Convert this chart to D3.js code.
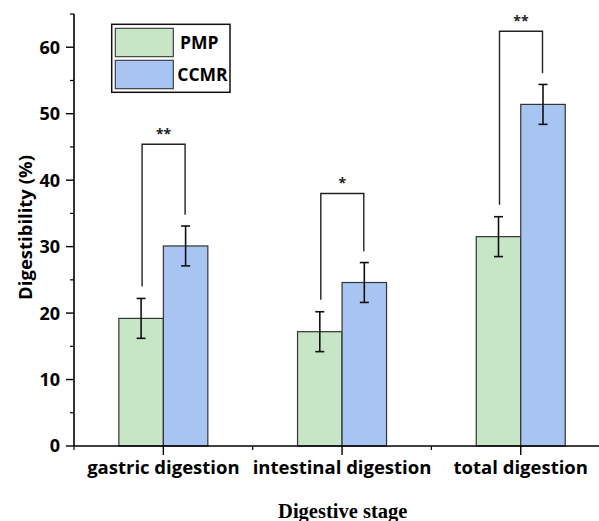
<!DOCTYPE html>
<html>
<head>
<meta charset="utf-8">
<script src="https://cdn.jsdelivr.net/npm/d3@7"></script>
<style>
  body { margin: 0; background: #fff; }
  svg { display: block; }
</style>
</head>
<body>
<svg id="chart" width="599" height="521"></svg>
<script>
const stages = ["gastric digestion", "intestinal digestion", "total digestion"];
const groups = ["PMP", "CCMR"];
const pmpMean = [19.2, 17.2, 31.5];
const pmpErr = [3.0, 3.0, 3.0];
const ccmrMean = [30.1, 24.6, 51.4];
const ccmrErr = [3.0, 3.0, 3.0];
const sigLabels = ["**", "*", "**"];
const sigTop = [45.4, 38.0, 62.4];
const yTicks = [0, 10, 20, 30, 40, 50, 60];

const colors = { PMP: "#c6e6c6", CCMR: "#a7c4f2" };
const font = "'Open Sans', 'Noto Sans', sans-serif";

const svg = d3.select("#chart");
const plotLeft = 74, plotBottom = 446, plotTop = 14;

const x = d3.scaleBand().domain(stages).range([plotLeft, plotLeft + 3 * 178.7]).paddingInner(0).paddingOuter(0);
const y = d3.scaleLinear().domain([0, 65]).range([plotBottom, plotTop]);
const barW = 44.5;

const rows = stages.map((s, i) => ({
  stage: s,
  vals: [
    { g: "PMP", v: pmpMean[i], e: pmpErr[i] },
    { g: "CCMR", v: ccmrMean[i], e: ccmrErr[i] }
  ],
  sig: sigLabels[i],
  sigTop: sigTop[i]
}));

const barX = (stage, gi) => x(stage) + x.bandwidth() / 2 + (gi - 1) * barW;

// bars
rows.forEach(r => {
  r.vals.forEach((d, gi) => {
    svg.append("rect")
      .attr("x", barX(r.stage, gi))
      .attr("y", y(d.v))
      .attr("width", barW)
      .attr("height", y(0) - y(d.v))
      .attr("fill", colors[d.g])
      .attr("stroke", "#333")
      .attr("stroke-width", 1.2);
  });
});

// error bars
rows.forEach(r => {
  r.vals.forEach((d, gi) => {
    const cx = barX(r.stage, gi) + barW / 2;
    const g = svg.append("g").attr("stroke", "#111").attr("stroke-width", 1.6);
    g.append("line").attr("x1", cx).attr("x2", cx).attr("y1", y(d.v + d.e)).attr("y2", y(d.v - d.e));
    g.append("line").attr("x1", cx - 4.5).attr("x2", cx + 4.5).attr("y1", y(d.v + d.e)).attr("y2", y(d.v + d.e));
    g.append("line").attr("x1", cx - 4.5).attr("x2", cx + 4.5).attr("y1", y(d.v - d.e)).attr("y2", y(d.v - d.e));
  });
});

// significance brackets
rows.forEach(r => {
  const x1 = barX(r.stage, 0) + barW / 2 + 1;
  const x2 = barX(r.stage, 1) + barW / 2 - 0.5;
  const b1 = r.vals[0].v + r.vals[0].e + 1.8;
  const b2 = r.vals[1].v + r.vals[1].e + 1.7;
  svg.append("path")
    .attr("d", `M${x1},${y(b1)} V${y(r.sigTop)} H${x2} V${y(b2)}`)
    .attr("fill", "none")
    .attr("stroke", "#222")
    .attr("stroke-width", 1.4);
  svg.append("text")
    .attr("x", (x1 + x2) / 2)
    .attr("y", y(r.sigTop) - 5)
    .attr("text-anchor", "middle")
    .attr("font-family", font)
    .attr("font-size", 14)
    .attr("font-weight", "bold")
    .attr("fill", "#222")
    .text(r.sig);
});

// y axis
const yAxis = svg.append("g").attr("transform", `translate(${plotLeft},0)`);
yAxis.append("line").attr("x1", 0).attr("x2", 0).attr("y1", plotTop).attr("y2", plotBottom)
  .attr("stroke", "#000").attr("stroke-width", 1.6);
yAxis.selectAll(".major").data(yTicks).enter().append("line")
  .attr("x1", -8).attr("x2", 0).attr("y1", d => y(d)).attr("y2", d => y(d))
  .attr("stroke", "#000").attr("stroke-width", 1.4);
yAxis.selectAll(".minor").data(yTicks.map(d => d + 5)).enter().append("line")
  .attr("x1", -4).attr("x2", 0).attr("y1", d => y(d)).attr("y2", d => y(d))
  .attr("stroke", "#000").attr("stroke-width", 1.2);
yAxis.selectAll("text").data(yTicks).enter().append("text")
  .attr("x", -14).attr("y", d => y(d)).attr("dy", "0.36em")
  .attr("text-anchor", "end")
  .attr("font-family", font).attr("font-size", 18).attr("font-weight", "bold")
  .text(d => d);

// x axis
const xAxis = svg.append("g").attr("transform", `translate(0,${plotBottom})`);
xAxis.append("line").attr("x1", plotLeft).attr("x2", 599).attr("y1", 0).attr("y2", 0)
  .attr("stroke", "#000").attr("stroke-width", 1.6);
xAxis.selectAll(".major").data(stages).enter().append("line")
  .attr("x1", d => x(d) + x.bandwidth() / 2).attr("x2", d => x(d) + x.bandwidth() / 2)
  .attr("y1", 0).attr("y2", 9)
  .attr("stroke", "#000").attr("stroke-width", 1.4);
xAxis.selectAll(".minor").data(stages).enter().append("line")
  .attr("x1", d => x(d)).attr("x2", d => x(d))
  .attr("y1", 0).attr("y2", 4)
  .attr("stroke", "#000").attr("stroke-width", 1.2);
xAxis.selectAll("text").data(stages).enter().append("text")
  .attr("x", d => x(d) + x.bandwidth() / 2).attr("y", 28)
  .attr("text-anchor", "middle")
  .attr("font-family", font).attr("font-size", 18.5).attr("font-weight", "bold")
  .text(d => d);

// axis titles
svg.append("text")
  .attr("transform", `translate(32,227.5) rotate(-90)`)
  .attr("text-anchor", "middle")
  .attr("font-family", font).attr("font-size", 18.5).attr("font-weight", "bold")
  .text("Digestibility (%)");
svg.append("text")
  .attr("x", 342.7).attr("y", 518)
  .attr("text-anchor", "middle")
  .attr("font-family", "'Liberation Serif', 'Times New Roman', serif")
  .attr("font-size", 20.5).attr("font-weight", "bold")
  .text("Digestive stage");

// legend
const legend = svg.append("g").attr("transform", "translate(111.7,24.3)");
legend.append("rect").attr("width", 118.3).attr("height", 68)
  .attr("fill", "#fff").attr("stroke", "#111").attr("stroke-width", 1.5);
groups.forEach((g, i) => {
  legend.append("rect")
    .attr("x", 3.6).attr("y", 4 + i * 32)
    .attr("width", 58).attr("height", 28.4)
    .attr("fill", colors[g]).attr("stroke", "#333").attr("stroke-width", 1.1);
  legend.append("text")
    .attr("x", i === 0 ? 68.3 : 65.6).attr("y", 18.5 + i * 32).attr("dy", "0.36em")
    .attr("font-family", font).attr("font-size", 17.5).attr("font-weight", "bold")
    .text(g);
});
</script>
</body>
</html>
